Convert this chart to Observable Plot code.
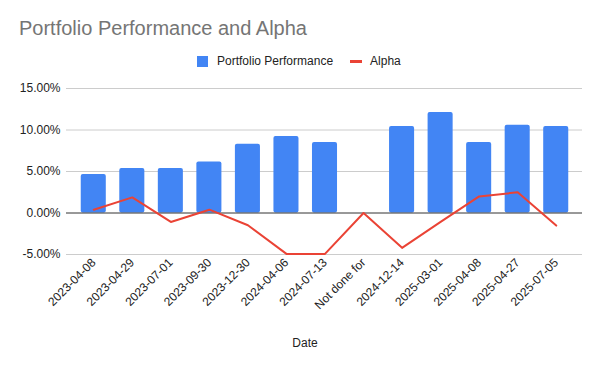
<!DOCTYPE html>
<html>
<head>
<meta charset="utf-8">
<script src="https://cdn.jsdelivr.net/npm/d3@7"></script>
<script src="https://cdn.jsdelivr.net/npm/@observablehq/plot@0.6"></script>
<style>
  html, body { margin: 0; padding: 0; background: #fff; }
  #wrap { position: relative; width: 600px; height: 371px; overflow: hidden; font-family: "Liberation Sans", Arial, sans-serif; }
  #title { position: absolute; left: 19px; top: 17px; font-size: 20px; color: #757575; font-family: "Liberation Sans", Arial, sans-serif; white-space: nowrap; }
  #legend { position: absolute; left: 197px; top: 54px; font-size: 12px; color: #222; white-space: nowrap; display: flex; align-items: center; }
  .sw { display: inline-block; }
  #chart { position: absolute; left: 0; top: 80px; }
  #xlabel { position: absolute; top: 336px; left: 0; width: 610px; text-align: center; font-size: 12px; color: #222; }
</style>
</head>
<body>
<div id="wrap">
  <div id="title">Portfolio Performance and Alpha</div>
  <div id="legend">
    <span class="sw" style="width:11px;height:11px;background:#4285f4;margin-right:9px"></span><span>Portfolio Performance</span>
    <span class="sw" style="width:12px;height:3px;background:#ea4335;margin-left:17px;margin-right:8px"></span><span>Alpha</span>
  </div>
  <div id="chart"></div>
  <div id="xlabel">Date</div>
</div>
<script>
const dates = ["2023-04-08","2023-04-29","2023-07-01","2023-09-30","2023-12-30","2024-04-06","2024-07-13","Not done for","2024-12-14","2025-03-01","2025-04-08","2025-04-27","2025-07-05"];
const performance = [4.65, 5.37, 5.37, 6.13, 8.29, 9.21, 8.49, null, 10.42, 12.10, 8.49, 10.58, 10.42];
const alpha = [0.40, 1.88, -1.08, 0.40, -1.48, -4.93, -4.93, 0, -4.2, -1.06, 2.0, 2.49, -1.52];
const yTicks = [-5, 0, 5, 10, 15];

const data = dates.map((d, i) => ({date: d, perf: performance[i], alpha: alpha[i]}));
const fmt = d => d.toFixed(2) + "%";

const chart = Plot.plot({
  width: 600,
  height: 245,
  marginTop: 8,
  marginBottom: 71,
  marginLeft: 66,
  marginRight: 18,
  style: {fontFamily: "'Liberation Sans', Arial, sans-serif", fontSize: "12px", color: "#222", background: "#fff"},
  x: {domain: dates, insetLeft: 8, insetRight: 7, paddingInner: 0.35, paddingOuter: 0.175, round: false, label: null},
  y: {domain: [-5, 15], label: null},
  marks: [
    Plot.ruleY(yTicks.filter(d => d !== 0), {stroke: "#cccccc", strokeWidth: 1}),
    Plot.barY(data.filter(d => d.perf != null), {x: "date", y: "perf", fill: "#4285f4", rx: 2}),
    Plot.ruleY([0], {stroke: "#333333", strokeWidth: 1}),
    Plot.lineY(data, {x: "date", y: "alpha", stroke: "#ea4335", strokeWidth: 2}),
    Plot.axisY({ticks: yTicks, tickSize: 0, tickPadding: 6, tickFormat: fmt, label: null, fill: "#222"}),
    Plot.axisX({tickSize: 0, tickPadding: 6, tickRotate: -45, label: null, fill: "#222"})
  ]
});
document.getElementById("chart").appendChild(chart);
</script>
</body>
</html>
